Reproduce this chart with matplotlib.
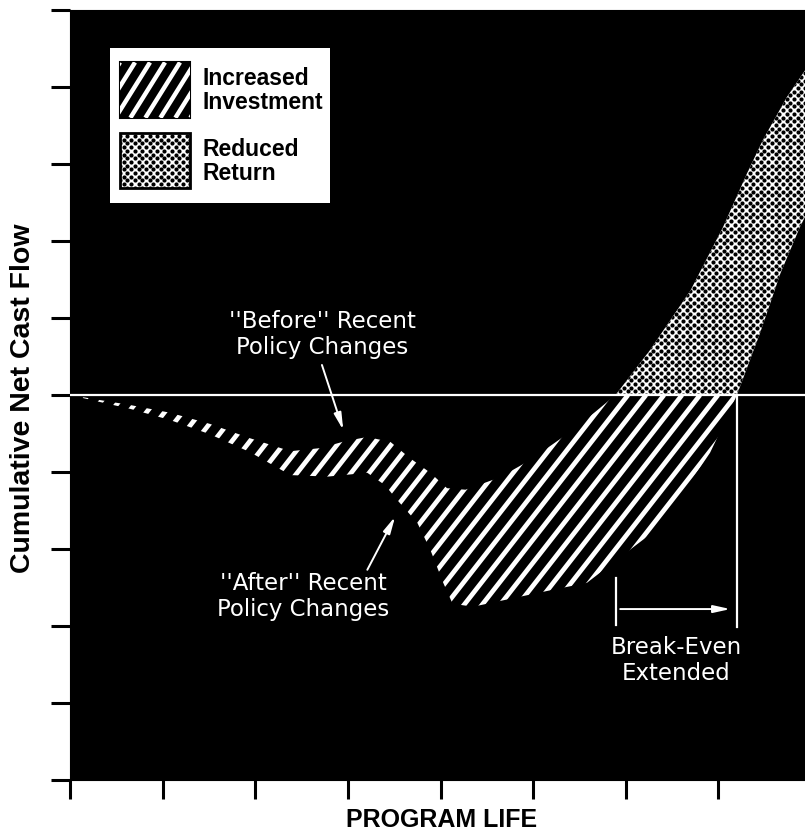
import numpy as np
import matplotlib
matplotlib.use('Agg')
import matplotlib.pyplot as plt
from matplotlib.patches import Polygon, Rectangle
from matplotlib.collections import LineCollection
from matplotlib.transforms import Bbox, TransformedBbox

# cumulative net cash flow, "before" recent policy changes (upper curve)
before_x = [0.0, 0.32, 0.65, 1.08, 1.51, 1.94, 2.38, 2.70, 2.97, 3.21, 3.46, 3.67,
            3.89, 4.07, 4.27, 4.64, 4.97, 5.40, 5.67, 5.89, 6.26, 6.70, 7.05, 7.31,
            7.48, 7.74, 8.0]
before_y = [0.0, -0.065, -0.13, -0.23, -0.375, -0.56, -0.73, -0.69, -0.60, -0.545,
            -0.61, -0.82, -1.01, -1.21, -1.23, -1.07, -0.844, -0.48, -0.22, 0.0,
            0.58, 1.36, 2.18, 2.88, 3.31, 3.87, 4.33]

# "after" recent policy changes (lower curve)
after_x = [0.0, 0.32, 0.65, 1.08, 1.51, 1.94, 2.38, 2.78, 3.21, 3.40, 3.53, 3.75,
           3.89, 4.03, 4.13, 4.35, 4.78, 5.21, 5.58, 5.86, 6.23, 6.59, 6.91, 7.09,
           7.20, 7.45, 7.67, 7.88, 8.0]
after_y = [0.0, -0.09, -0.18, -0.325, -0.51, -0.74, -1.04, -1.06, -1.01, -1.17,
           -1.36, -1.66, -2.01, -2.44, -2.71, -2.75, -2.64, -2.53, -2.44, -2.18,
           -1.84, -1.32, -0.75, -0.30, 0.0, 0.805, 1.58, 2.18, 2.47]

breakeven_before = 5.89
breakeven_after = 7.20

x_ticks = np.arange(0, 9)
y_ticks = np.arange(-5, 6)
legend_labels = ['Increased\nInvestment', 'Reduced\nReturn']

fig = plt.figure(figsize=(8.05, 8.39), dpi=100)
ax = fig.add_axes([70 / 805, 59 / 839, 741 / 805, 770 / 839])
ax.set_facecolor('black')
ax.set_xlim(0, 8)
ax.set_ylim(-5, 5)

# pixels per data unit, so patterns keep their look
ppx = 741 / 8
ppy = 770 / 10


def stripes(clip, box, xr, yr, spacing_px, angle, lw, z):
    slope = np.tan(np.radians(angle)) * ppx / ppy
    run = (yr[1] - yr[0]) / slope
    step = spacing_px / ppx
    segs = []
    for c in np.arange(xr[0] - run, xr[1] + step, step):
        segs.append([(c, yr[0]), (c + run, yr[1])])
    lc = LineCollection(segs, colors='white', linewidths=lw, zorder=z)
    ax.add_collection(lc)
    if box is not None:
        lc.set_clip_box(box)
    lc.set_clip_path(clip)


def dots(clip, box, xr, yr, z, dx_px=7.4, dy_px=3.7, size=9):
    xs, ys = [], []
    for i, yy in enumerate(np.arange(yr[0], yr[1], dy_px / ppy)):
        off = (i % 2) * dx_px / 2 / ppx
        row = np.arange(xr[0] + off, xr[1], dx_px / ppx)
        xs.extend(row)
        ys.extend([yy] * len(row))
    sc = ax.scatter(xs, ys, s=size, c='black', linewidths=0, zorder=z)
    if box is not None:
        sc.set_clip_box(box)
    sc.set_clip_path(clip)


# band between the two curves
verts = list(zip(before_x, before_y)) + list(zip(after_x[::-1], after_y[::-1]))
band = Polygon(verts, closed=True, transform=ax.transData)
upper = TransformedBbox(Bbox([[0, 0], [8, 5]]), ax.transData)
lower = TransformedBbox(Bbox([[0, -5], [8, 0]]), ax.transData)

white = Polygon(verts, closed=True, facecolor='white', edgecolor='none', zorder=2)
ax.add_patch(white)
white.set_clip_box(upper)
dots(band, upper, (5.5, 8.1), (0, 5), 3)
stripes(band, lower, (0, 8), (-3.5, 0), 18, 52, 3.4, 3)

ax.axhline(0, color='white', lw=1.6, zorder=4)

arrow = dict(arrowstyle='-|>,head_width=0.22,head_length=1.0', color='white',
             lw=1.4, shrinkA=0, shrinkB=0)

# break-even markers
ax.plot([breakeven_before] * 2, [-2.38, -2.99], color='white', lw=1.6, zorder=4)
ax.plot([breakeven_after] * 2, [0, -3.01], color='white', lw=1.6, zorder=4)
ax.annotate('', xy=(breakeven_after - 0.07, -2.78), xytext=(breakeven_before + 0.05, -2.78),
            arrowprops=arrow, zorder=4)
ax.text((breakeven_before + breakeven_after) / 2, -3.45, 'Break-Even\nExtended',
        color='white', fontsize=16.5, ha='center', va='center', linespacing=1.15,
        family='DejaVu Sans')

# annotations
ax.text(2.72, 0.79, "''Before'' Recent\nPolicy Changes", color='white', fontsize=16.5,
        ha='center', va='center', linespacing=1.15, family='DejaVu Sans')
ax.annotate('', xy=(2.95, -0.455), xytext=(2.72, 0.39), arrowprops=arrow, zorder=4)
ax.text(2.52, -2.62, "''After'' Recent\nPolicy Changes", color='white', fontsize=16.5,
        ha='center', va='center', linespacing=1.15, family='DejaVu Sans')
ax.annotate('', xy=(3.51, -1.58), xytext=(3.21, -2.27), arrowprops=arrow, zorder=4)

# legend box
ax.add_patch(Rectangle((0.43, 2.49), 2.38, 2.02, facecolor='white', edgecolor='none', zorder=5))
key1 = Rectangle((0.54, 3.60), 0.76, 0.72, facecolor='black', edgecolor='black', lw=1.5, zorder=6)
ax.add_patch(key1)
stripes(key1, None, (0.54, 1.30), (3.60, 4.32), 15, 58, 3.2, 7)
key2 = Rectangle((0.54, 2.69), 0.76, 0.71, facecolor='white', edgecolor='none', zorder=6)
ax.add_patch(key2)
dots(key2, None, (0.54, 1.31), (2.69, 3.41), 7)
ax.add_patch(Rectangle((0.54, 2.69), 0.76, 0.71, facecolor='none', edgecolor='black', lw=2, zorder=8))
ax.text(1.43, 3.955, legend_labels[0], fontsize=16.5, fontweight='bold', ha='left', va='center',
        linespacing=1.05, family='Liberation Sans', zorder=8)
ax.text(1.43, 3.035, legend_labels[1], fontsize=16.5, fontweight='bold', ha='left', va='center',
        linespacing=1.05, family='Liberation Sans', zorder=8)

# axes
ax.set_xticks(x_ticks)
ax.set_yticks(y_ticks)
ax.set_xticklabels([])
ax.set_yticklabels([])
ax.tick_params(direction='out', length=14, width=2.2, color='black')
for s in ax.spines.values():
    s.set_color('black')

fig.text(23 / 805, 1 - 398 / 839, 'Cumulative Net Cast Flow', rotation=90, ha='center',
         va='center', fontsize=20.5, fontweight='bold', family='Liberation Sans')
fig.text(442 / 805, 1 - 820 / 839, 'PROGRAM LIFE', ha='center', va='center', fontsize=18,
         fontweight='bold', family='Liberation Sans')

fig.savefig('out.png', dpi=100, facecolor='white')
